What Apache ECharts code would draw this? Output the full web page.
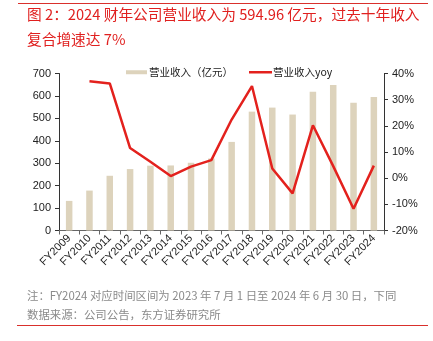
<!DOCTYPE html>
<html><head><meta charset="utf-8">
<script src="https://cdn.jsdelivr.net/npm/echarts@6/dist/echarts.min.js"></script>
<style>html,body{margin:0;padding:0;background:#fff}#c{width:433px;height:341px}</style>
</head><body><div id="c"></div>
<script>
var categories = ['FY2009','FY2010','FY2011','FY2012','FY2013','FY2014','FY2015','FY2016','FY2017','FY2018','FY2019','FY2020','FY2021','FY2022','FY2023','FY2024'];
var revenue = [132, 178, 244, 274, 289, 290, 302, 321, 395, 530, 548, 517, 619, 649, 570, 595];
var revenueYoy = [null, 37.0, 36.2, 11.5, 6.3, 0.8, 4.4, 6.9, 22.4, 35.2, 3.7, -5.8, 20.2, 4.6, -11.7, 4.8];
var leftTicks = [0, 700, 100];
var rightTicks = [-20, 40, 10];

var chart = echarts.init(document.getElementById('c'));
var font = '"Liberation Sans", Arial, "Noto Sans CJK SC", sans-serif';
var cjk = '"Noto Sans CJK SC", "Liberation Sans", sans-serif';
chart.setOption({
  animation: false,
  textStyle: {fontFamily: font},
  graphic: [
    {type:'line', shape:{x1:18,y1:3.5,x2:428,y2:3.5}, style:{stroke:'#d9302c', lineWidth:1}},
    {type:'text', left:27, top:7, style:{text:'图 2：2024 财年公司营业收入为 594.96 亿元，过去十年收入', fill:'#e0201f', font:'14.7px ' + cjk}},
    {type:'text', left:27, top:32, style:{text:'复合增速达 7%', fill:'#e0201f', font:'14.7px ' + cjk}},
    {type:'text', left:27, top:290, style:{text:'注：FY2024 对应时间区间为 2023 年 7 月 1 日至 2024 年 6 月 30 日，下同', fill:'#8a8a8a', font:'11.4px ' + cjk}},
    {type:'text', left:27, top:309, style:{text:'数据来源：公司公告，东方证券研究所', fill:'#8a8a8a', font:'11.4px ' + cjk}},
    {type:'line', shape:{x1:17,y1:325.5,x2:428,y2:325.5}, style:{stroke:'#d9302c', lineWidth:1}}
  ],
  legend: [
    {
      left: 121, top: 62,
      textStyle: {fontSize: 10.5, color: '#222', fontFamily: cjk, padding:[0,0,0,-3]},
      data: [{name:'营业收入（亿元）', icon:'rect', itemStyle:{color:'#ddd3bc'}}],
      itemWidth: 21, itemHeight: 4
    },
    {
      left: 244, top: 62,
      textStyle: {fontSize: 10.5, color: '#222', fontFamily: cjk, padding:[0,0,0,-4]},
      data: [{name:'营业收入yoy', icon:'rect'}],
      itemWidth: 23, itemHeight: 2.5
    }
  ],
  grid: {left: 59, right: 49, top: 73.5, bottom: 110.5},
  xAxis: {
    type: 'category', data: categories, boundaryGap: true,
    axisLine: {lineStyle:{color:'#666', width:1}},
    axisTick: {show:true, length:4, lineStyle:{color:'#666'}},
    axisLabel: {rotate: 45, fontSize: 11, color: '#222', margin: 6, interval: 0}
  },
  yAxis: [
    {type:'value', min:leftTicks[0], max:leftTicks[1], interval:leftTicks[2],
     splitLine:{show:false},
     axisLine:{show:true, lineStyle:{color:'#333'}},
     axisTick:{show:true, length:4, lineStyle:{color:'#333'}},
     axisLabel:{fontSize:11, color:'#222', margin:8}},
    {type:'value', min:rightTicks[0], max:rightTicks[1], interval:rightTicks[2],
     splitLine:{show:false},
     axisLine:{show:true, lineStyle:{color:'#333'}},
     axisTick:{show:true, length:4, lineStyle:{color:'#333'}},
     axisLabel:{fontSize:11, color:'#222', margin:8, formatter:'{value}%'}}
  ],
  series: [
    {name:'营业收入（亿元）', type:'bar', data: revenue, barWidth: 6.5, itemStyle:{color:'#ddd3bc'}},
    {name:'营业收入yoy', type:'line', yAxisIndex:1, data: revenueYoy, showSymbol:false, symbol:'none',
     lineStyle:{color:'#e3211d', width:2.5}, itemStyle:{color:'#e3211d'}}
  ]
});
</script></body></html>
